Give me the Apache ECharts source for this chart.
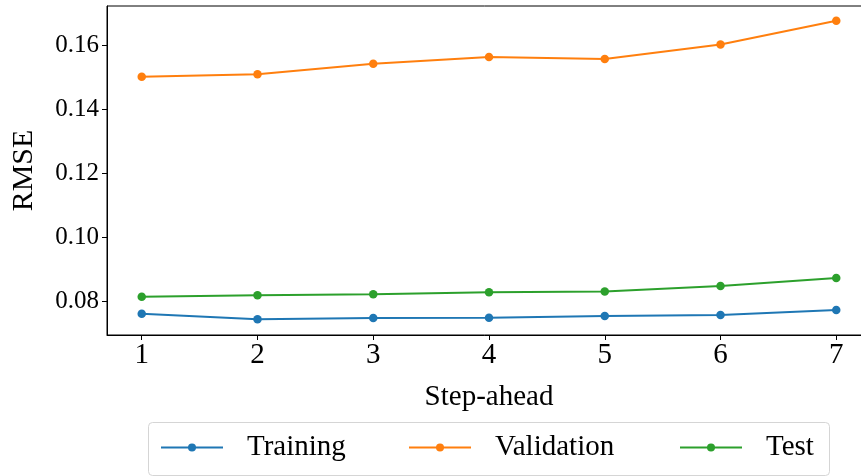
<!DOCTYPE html>
<html>
<head>
<meta charset="utf-8">
<script src="https://cdn.jsdelivr.net/npm/echarts@6/dist/echarts.min.js"></script>
<style>html,body{margin:0;padding:0;background:#fff;overflow:hidden}#c{width:861px;height:476px}</style>
</head>
<body>
<div id="c"></div>
<script>
const steps = [1, 2, 3, 4, 5, 6, 7];
const training = [0.0762, 0.0745, 0.0749, 0.0750, 0.0755, 0.0758, 0.0774];
const validation = [0.1501, 0.1509, 0.1542, 0.1563, 0.1557, 0.1602, 0.1676];
const test = [0.0815, 0.0820, 0.0823, 0.0829, 0.0832, 0.0849, 0.0874];
const yTicks = [0.08, 0.10, 0.12, 0.14, 0.16];
const xTicks = [1, 2, 3, 4, 5, 6, 7];

const FONT = 'Liberation Serif';
const pairs = arr => steps.map((s, i) => [s, arr[i]]);
const mk = (name, arr, color) => ({
  name, type: 'line', data: pairs(arr), color,
  symbol: 'circle', symbolSize: 8.5,
  lineStyle: {width: 2, color}, itemStyle: {color},
  emphasis: {disabled: true}, animation: false
});
const legendBase = (name, left) => ({
  data: [name], left, top: 433, padding: 0,
  itemWidth: 62, itemHeight: 10,
  textStyle: {fontFamily: FONT, fontSize: 29, color: '#000', padding: [0, 0, 0, 19]},
  selectedMode: false
});

const chart = echarts.init(document.getElementById('c'), null, {renderer: 'canvas'});
chart.setOption({
  backgroundColor: '#fff',
  animation: false,
  grid: {left: 107, top: 6, width: 764, bottom: 141, outerBoundsMode: 'none', containLabel: false,
    show: true, borderColor: '#000', borderWidth: 1, backgroundColor: 'transparent'},
  xAxis: {
    type: 'value', min: 0.7, max: 7.3,
    name: 'Step-ahead', nameLocation: 'middle', nameGap: 48,
    nameTextStyle: {fontFamily: FONT, fontSize: 29, color: '#000'},
    axisLine: {show: true, onZero: false, lineStyle: {color: '#000', width: 1}},
    axisTick: {show: true, customValues: xTicks, length: 5, lineStyle: {color: '#000'}},
    axisLabel: {customValues: xTicks, fontFamily: FONT, fontSize: 29, color: '#000', margin: 6},
    splitLine: {show: false}
  },
  yAxis: {
    type: 'value', min: 0.0696, max: 0.1722,
    name: 'RMSE', nameLocation: 'middle', nameGap: 68,
    nameTextStyle: {fontFamily: FONT, fontSize: 30, color: '#000'},
    axisLine: {show: true, onZero: false, lineStyle: {color: '#000', width: 1}},
    axisTick: {show: true, customValues: yTicks, length: 5, lineStyle: {color: '#000'}},
    axisLabel: {customValues: yTicks, fontFamily: FONT, fontSize: 25, color: '#000', margin: 8,
      formatter: v => v.toFixed(2)},
    splitLine: {show: false}
  },
  legend: [
    legendBase('Training', 160),
    legendBase('Validation', 408),
    legendBase('Test', 679)
  ],
  graphic: [{
    type: 'rect', left: 148, top: 422, z: -1,
    shape: {width: 681, height: 53, r: 4},
    style: {fill: '#fff', stroke: '#d5d5d5', lineWidth: 1}
  }],
  series: [
    mk('Training', training, '#1f77b4'),
    mk('Validation', validation, '#ff7f0e'),
    mk('Test', test, '#2ca02c')
  ]
});
</script>
</body>
</html>
